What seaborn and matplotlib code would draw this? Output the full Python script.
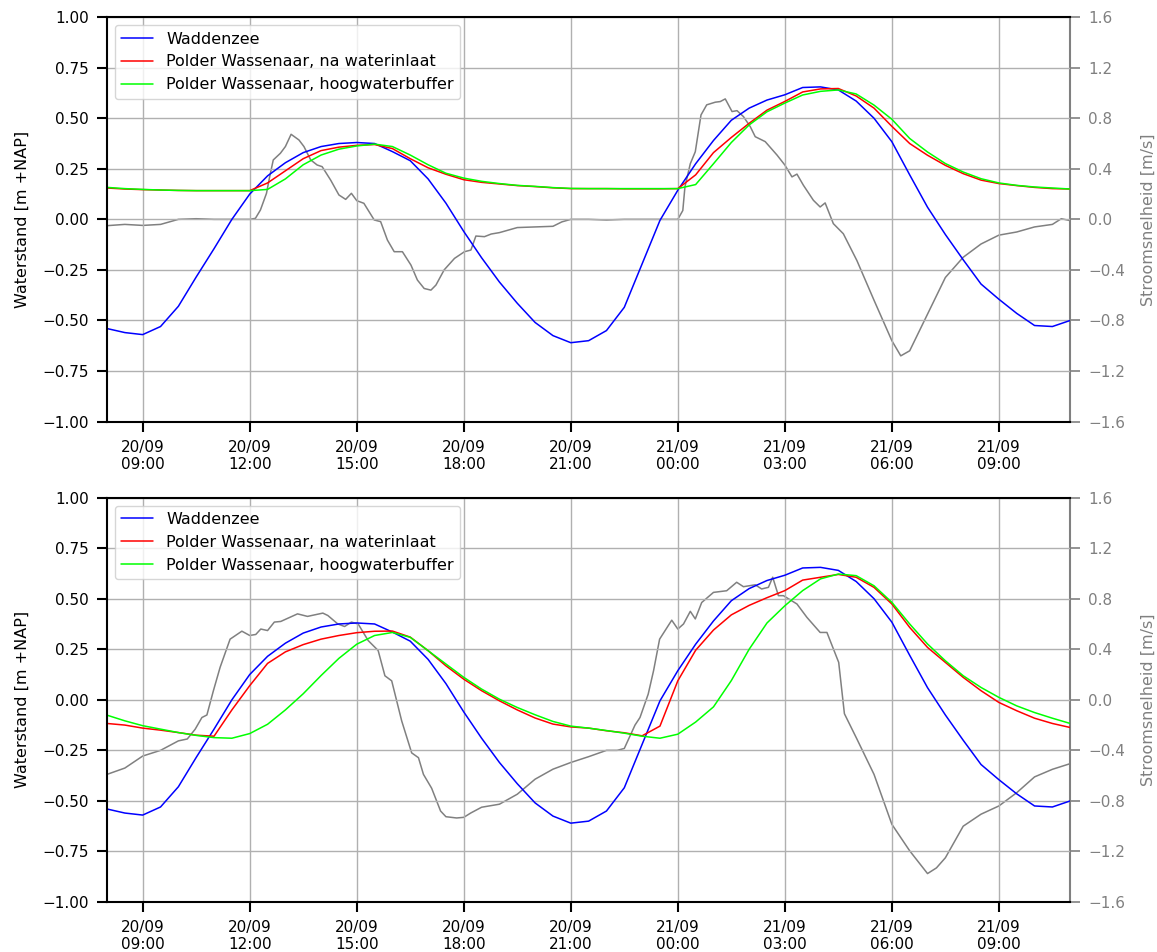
import numpy as np
import pandas as pd
import matplotlib
matplotlib.use("Agg")
import matplotlib.pyplot as plt
import matplotlib.dates as mdates
import seaborn as sns

# uren sinds 20/09 00:00, elk half uur
uren = [8.0, 8.5, 9.0, 9.5, 10.0, 10.5, 11.0, 11.5, 12.0, 12.5, 13.0, 13.5, 14.0, 14.5,
        15.0, 15.5, 16.0, 16.5, 17.0, 17.5, 18.0, 18.5, 19.0, 19.5, 20.0, 20.5, 21.0, 21.5,
        22.0, 22.5, 23.0, 23.5, 24.0, 24.5, 25.0, 25.5, 26.0, 26.5, 27.0, 27.5, 28.0, 28.5,
        29.0, 29.5, 30.0, 30.5, 31.0, 31.5, 32.0, 32.5, 33.0, 33.5, 34.0, 34.5, 35.0]

waddenzee = [-0.54, -0.56, -0.57, -0.53, -0.43, -0.285, -0.145, 0.0, 0.125, 0.215, 0.28, 0.33,
             0.36, 0.375, 0.38, 0.375, 0.335, 0.29, 0.2, 0.08, -0.06, -0.19, -0.31, -0.415,
             -0.51, -0.575, -0.61, -0.60, -0.55, -0.435, -0.22, -0.005, 0.144, 0.275, 0.39,
             0.49, 0.55, 0.59, 0.616, 0.652, 0.655, 0.64, 0.585, 0.50, 0.384, 0.22, 0.06,
             -0.075, -0.20, -0.32, -0.395, -0.465, -0.525, -0.53, -0.50]

# bovenste grafiek
inlaat_1 = [0.155, 0.15, 0.147, 0.145, 0.143, 0.142, 0.142, 0.142, 0.142, 0.18, 0.24, 0.30,
            0.34, 0.357, 0.366, 0.37, 0.35, 0.30, 0.255, 0.223, 0.196, 0.183, 0.175, 0.167,
            0.162, 0.156, 0.152, 0.152, 0.152, 0.151, 0.151, 0.151, 0.152, 0.22, 0.33, 0.405,
            0.475, 0.54, 0.583, 0.63, 0.645, 0.647, 0.61, 0.55, 0.46, 0.375, 0.317, 0.267,
            0.226, 0.194, 0.177, 0.167, 0.158, 0.152, 0.15]
buffer_1 = [0.158, 0.152, 0.148, 0.145, 0.143, 0.142, 0.142, 0.142, 0.142, 0.148, 0.20, 0.27,
            0.318, 0.347, 0.363, 0.372, 0.36, 0.318, 0.27, 0.228, 0.204, 0.188, 0.177, 0.168,
            0.163, 0.157, 0.153, 0.152, 0.152, 0.152, 0.152, 0.152, 0.152, 0.172, 0.275, 0.38,
            0.467, 0.532, 0.575, 0.615, 0.633, 0.64, 0.62, 0.565, 0.495, 0.40, 0.333, 0.276,
            0.234, 0.201, 0.18, 0.168, 0.16, 0.155, 0.15]
stroom_uren_1 = [8, 8.5, 9, 9.5, 10, 10.5, 11, 11.5, 12, 12.16, 12.3, 12.47, 12.56, 12.66,
                 12.86, 13.0, 13.16, 13.38, 13.52, 13.71, 13.89, 14.03, 14.27, 14.5, 14.69,
                 14.85, 15.0, 15.2, 15.49, 15.67, 15.86, 16.05, 16.28, 16.52, 16.7, 16.89,
                 17.08, 17.22, 17.45, 17.74, 18.02, 18.2, 18.34, 18.58, 18.77, 19.0, 19.5, 20,
                 20.5, 20.75, 21, 21.5, 22, 22.5, 23, 23.5, 24.0, 24.14, 24.2, 24.35, 24.49,
                 24.65, 24.81, 25.05, 25.19, 25.33, 25.52, 25.66, 25.84, 26.03, 26.17, 26.45,
                 26.78, 27.0, 27.2, 27.34, 27.52, 27.8, 27.99, 28.13, 28.36, 28.64, 29.02, 29.5,
                 30.0, 30.25, 30.5, 31.0, 31.5, 32.0, 32.5, 33.0, 33.5, 34.0, 34.5, 34.75, 35.0]
stroom_1 = [-0.05, -0.04, -0.048, -0.04, 0.0, 0.005, 0.0, 0.0, 0.0, 0.008, 0.074, 0.206, 0.338,
            0.47, 0.523, 0.576, 0.673, 0.628, 0.576, 0.47, 0.43, 0.417, 0.31, 0.193, 0.158,
            0.206, 0.148, 0.127, -0.005, -0.018, -0.164, -0.256, -0.256, -0.362, -0.48, -0.547,
            -0.56, -0.52, -0.40, -0.309, -0.256, -0.243, -0.132, -0.137, -0.116, -0.105,
            -0.065, -0.06, -0.055, -0.02, 0.0, 0.0, -0.005, 0.0, 0.0, 0.0, 0.0, 0.07, 0.257,
            0.44, 0.535, 0.826, 0.906, 0.927, 0.932, 0.953, 0.853, 0.86, 0.813, 0.734, 0.654,
            0.615, 0.509, 0.43, 0.336, 0.358, 0.27, 0.151, 0.098, 0.13, -0.034, -0.114, -0.326,
            -0.64, -0.96, -1.08, -1.04, -0.75, -0.46, -0.30, -0.195, -0.125, -0.10, -0.06, -0.04,
            0.005, -0.01]

# onderste grafiek
inlaat_2 = [-0.117, -0.125, -0.14, -0.15, -0.162, -0.175, -0.18, -0.05, 0.07, 0.18, 0.237,
            0.273, 0.30, 0.318, 0.332, 0.339, 0.34, 0.31, 0.243, 0.168, 0.102, 0.045, -0.005,
            -0.05, -0.09, -0.12, -0.134, -0.14, -0.153, -0.163, -0.178, -0.13, 0.094, 0.245,
            0.345, 0.42, 0.467, 0.505, 0.54, 0.592, 0.606, 0.62, 0.606, 0.556, 0.474, 0.358,
            0.259, 0.185, 0.111, 0.045, -0.013, -0.054, -0.091, -0.117, -0.137]
buffer_2 = [-0.076, -0.104, -0.128, -0.145, -0.162, -0.176, -0.187, -0.19, -0.167, -0.121,
            -0.05, 0.03, 0.12, 0.205, 0.275, 0.318, 0.333, 0.309, 0.243, 0.177, 0.111, 0.053,
            0.003, -0.038, -0.074, -0.107, -0.13, -0.14, -0.152, -0.165, -0.18, -0.19, -0.17,
            -0.11, -0.035, 0.095, 0.25, 0.38, 0.465, 0.54, 0.598, 0.622, 0.614, 0.564, 0.482,
            0.375, 0.276, 0.193, 0.119, 0.061, 0.012, -0.03, -0.063, -0.091, -0.117]
stroom_uren_2 = [8, 8.5, 9, 9.5, 10, 10.25, 10.47, 10.66, 10.8, 10.98, 11.17, 11.45, 11.78, 12.0,
                 12.17, 12.31, 12.5, 12.69, 12.87, 13.34, 13.62, 14.05, 14.19, 14.47, 14.66,
                 14.85, 15.04, 15.32, 15.6, 15.79, 15.98, 16.26, 16.54, 16.73, 16.87, 17.1,
                 17.35, 17.5, 17.8, 18.0, 18.2, 18.5, 19.0, 19.5, 20.0, 20.5, 21.0, 21.5, 22.0,
                 22.3, 22.5, 22.8, 22.94, 23.17, 23.32, 23.49, 23.83, 24.0, 24.16, 24.35, 24.49,
                 24.67, 25.0, 25.37, 25.65, 25.84, 26.17, 26.35, 26.54, 26.66, 26.82, 26.96,
                 27.34, 27.62, 27.99, 28.18, 28.51, 28.67, 29.02, 29.5, 30.0, 30.5, 31.0, 31.25,
                 31.5, 32.0, 32.5, 33.0, 33.5, 34.0, 34.5, 35.0]
stroom_2 = [-0.59, -0.54, -0.445, -0.40, -0.325, -0.31, -0.233, -0.14, -0.12, 0.07, 0.257, 0.48,
            0.543, 0.509, 0.517, 0.56, 0.548, 0.615, 0.62, 0.68, 0.66, 0.686, 0.667, 0.60, 0.58,
            0.615, 0.60, 0.469, 0.39, 0.19, 0.15, -0.167, -0.42, -0.458, -0.59, -0.70, -0.88,
            -0.925, -0.935, -0.93, -0.895, -0.85, -0.826, -0.747, -0.628, -0.549, -0.496,
            -0.45, -0.40, -0.40, -0.385, -0.20, -0.14, 0.045, 0.23, 0.48, 0.63, 0.56, 0.60,
            0.70, 0.64, 0.77, 0.85, 0.863, 0.93, 0.895, 0.91, 0.877, 0.89, 0.97, 0.824, 0.824,
            0.758, 0.652, 0.533, 0.533, 0.296, -0.11, -0.31, -0.59, -0.985, -1.195, -1.375,
            -1.33, -1.25, -1.0, -0.905, -0.84, -0.735, -0.61, -0.55, -0.505]

start = pd.Timestamp("2023-09-20")


def tijd(h):
    return start + pd.to_timedelta(h, unit="h")


sns.set_style("ticks", {"axes.edgecolor": "black", "text.color": "black",
                        "xtick.color": "black", "ytick.color": "black",
                        "axes.labelcolor": "black"})
plt.rcParams["font.family"] = ["DejaVu Sans"]
plt.rcParams["font.size"] = 11.5

fig, axes = plt.subplots(2, 1, figsize=(11.57, 9.52), dpi=100)
fig.subplots_adjust(left=0.0925, right=0.925, top=0.982, bottom=0.0525, hspace=0.188)

panelen = [(inlaat_1, buffer_1, stroom_uren_1, stroom_1),
           (inlaat_2, buffer_2, stroom_uren_2, stroom_2)]

for ax, (inlaat, buffer, s_uren, stroom) in zip(axes, panelen):
    ax2 = ax.twinx()
    sns.lineplot(x=tijd(s_uren), y=stroom, color="gray", lw=1.1, ax=ax2)

    sns.lineplot(x=tijd(uren), y=waddenzee, color="blue", lw=1.1, ax=ax, label="Waddenzee")
    sns.lineplot(x=tijd(uren), y=inlaat, color="red", lw=1.1, ax=ax,
                 label="Polder Wassenaar, na waterinlaat")
    sns.lineplot(x=tijd(uren), y=buffer, color="lime", lw=1.1, ax=ax,
                 label="Polder Wassenaar, hoogwaterbuffer")

    ax.set_xlim(tijd(8), tijd(35))
    ax.set_ylim(-1, 1)
    ax.set_yticks([-1.0, -0.75, -0.5, -0.25, 0.0, 0.25, 0.5, 0.75, 1.0])
    ax.xaxis.set_major_locator(mdates.HourLocator(byhour=range(0, 24, 3)))
    ax.xaxis.set_major_formatter(mdates.DateFormatter("%d/%m\n%H:%M"))
    ax.grid(True, color="#b0b0b0", lw=1)
    ax.set_ylabel("Waterstand [m +NAP]", fontsize=11.5, labelpad=9)
    ax.set_xlabel("")
    ax.tick_params(length=7, width=1.5, pad=6, labelsize=11)
    for s in ["left", "top", "bottom"]:
        ax.spines[s].set_linewidth(1.5)
        ax.spines[s].set_visible(True)
    ax.spines["right"].set_visible(False)
    ax.legend(loc="upper left", fontsize=11.5)

    ax2.set_ylim(-1.6, 1.6)
    ax2.set_yticks([-1.6, -1.2, -0.8, -0.4, 0.0, 0.4, 0.8, 1.2, 1.6])
    ax2.set_ylabel("Stroomsnelheid [m/s]", color="gray", fontsize=11.5, labelpad=11)
    ax2.tick_params(axis="y", colors="gray", length=7, width=1.2, pad=6, labelsize=11)
    for s in ["left", "top", "bottom"]:
        ax2.spines[s].set_visible(False)
    ax2.spines["right"].set_visible(True)
    ax2.spines["right"].set_color("gray")
    ax2.spines["right"].set_linewidth(1.5)
    ax.set_zorder(ax2.get_zorder() + 1)
    ax.patch.set_visible(False)

plt.savefig("out.png", dpi=100)
